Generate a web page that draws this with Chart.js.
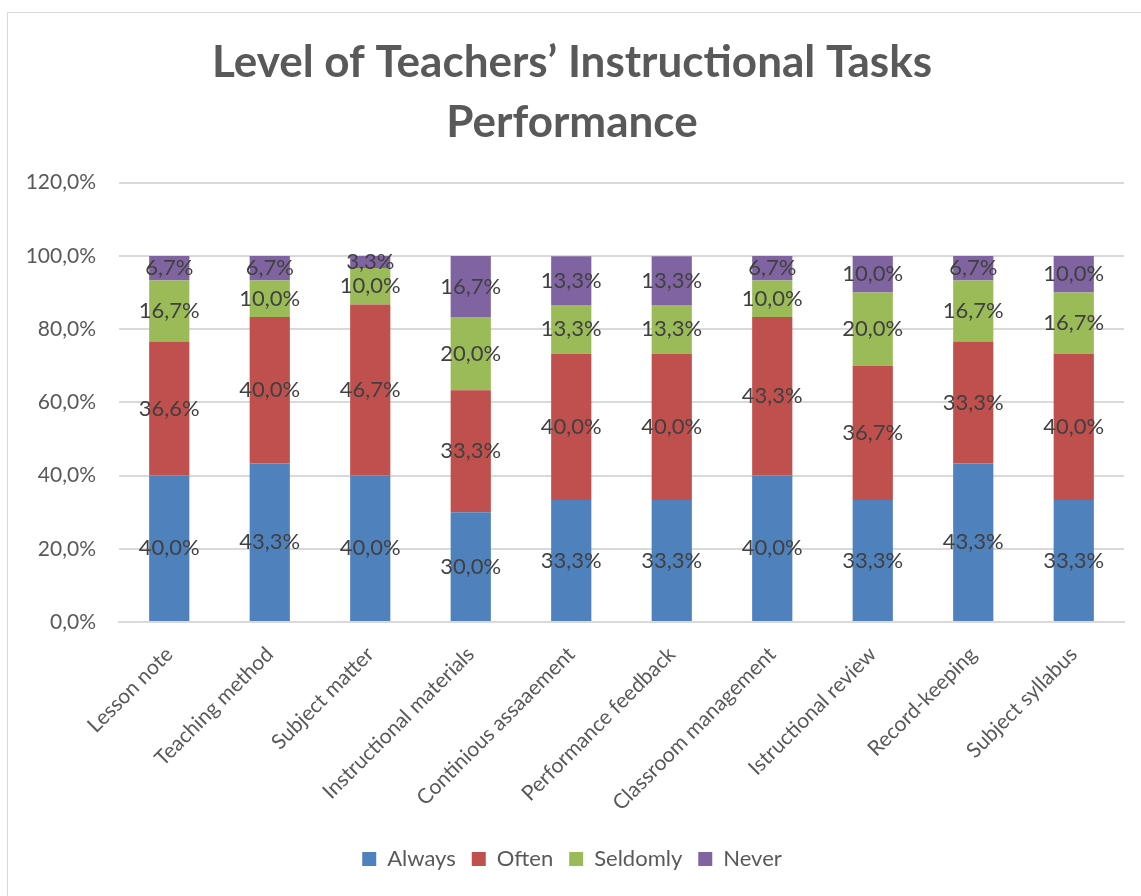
<!doctype html>
<html>

<head>
    <title>Level of Teachers' Instructional Tasks Performance</title>
    <script src="https://cdn.jsdelivr.net/npm/chart.js"></script>
    <style>
        body { margin: 0; overflow: hidden; background: #fff; }
        #frame { position: absolute; left: 7px; top: 12px; width: 1300px; height: 1000px; border: 1px solid #d9d9d9; }
        #wrap { position: absolute; left: 0; top: 0; width: 1141px; height: 896px; }
    </style>
</head>

<body>
    <div id="frame"></div>
    <div id="wrap">
        <canvas id="grafico"></canvas>
    </div>

    <script>
    const CATEGORIAS = ['Lesson note', 'Teaching method', 'Subject matter', 'Instructional materials',
        'Continious assaaement', 'Performance feedback', 'Classroom management', 'Istructional review',
        'Record-keeping', 'Subject syllabus'];
    const ALWAYS   = [40.0, 43.3, 40.0, 30.0, 33.3, 33.3, 40.0, 33.3, 43.3, 33.3];
    const OFTEN    = [36.6, 40.0, 46.7, 33.3, 40.0, 40.0, 43.3, 36.7, 33.3, 40.0];
    const SELDOMLY = [16.7, 10.0, 10.0, 20.0, 13.3, 13.3, 10.0, 20.0, 16.7, 16.7];
    const NEVER    = [6.7, 6.7, 3.3, 16.7, 13.3, 13.3, 6.7, 10.0, 6.7, 10.0];
    const Y_MAX = 120;
    const Y_STEP = 20;

    const FONTE = 'Lato';
    const CINZA = '#595959';

    function pct(v) {
        return v.toFixed(1).replace('.', ',') + '%';
    }

    // rotulos no meio de cada segmento
    const rotulos = {
        id: 'rotulos',
        afterDatasetsDraw(chart) {
            const ctx = chart.ctx;
            ctx.save();
            ctx.font = '22px ' + FONTE;
            ctx.fillStyle = '#404040';
            ctx.textAlign = 'center';
            ctx.textBaseline = 'middle';
            chart.data.datasets.forEach((ds, i) => {
                chart.getDatasetMeta(i).data.forEach((bar, j) => {
                    const meio = (bar.y + bar.base) / 2;
                    ctx.fillText(pct(ds.data[j]), bar.x, meio);
                });
            });
            ctx.restore();
        }
    };

    var grafico = new Chart(document.getElementById('grafico').getContext('2d'), {
        type: 'bar',
        data: {
            labels: CATEGORIAS,
            datasets: [
                { label: 'Always', backgroundColor: '#4F81BD', data: ALWAYS },
                { label: 'Often', backgroundColor: '#C0504D', data: OFTEN },
                { label: 'Seldomly', backgroundColor: '#9BBB59', data: SELDOMLY },
                { label: 'Never', backgroundColor: '#8064A2', data: NEVER }
            ]
        },
        plugins: [rotulos],
        options: {
            responsive: true,
            maintainAspectRatio: false,
            animation: false,
            datasets: {
                bar: { barPercentage: 0.8, categoryPercentage: 0.5 }
            },
            layout: {
                padding: { left: 20, right: 17, top: 0, bottom: 16 }
            },
            scales: {
                x: {
                    stacked: true,
                    grid: { display: false },
                    border: { color: '#d9d9d9', width: 2 },
                    ticks: {
                        color: CINZA,
                        font: { family: FONTE, size: 21 },
                        minRotation: 45,
                        maxRotation: 45,
                        padding: 12
                    },
                    afterFit: (eixo) => { eixo.height = 210; }
                },
                y: {
                    stacked: true,
                    min: 0,
                    max: Y_MAX,
                    grid: { color: '#d9d9d9', lineWidth: 2, drawTicks: false },
                    border: { display: false },
                    ticks: {
                        stepSize: Y_STEP,
                        color: CINZA,
                        font: { family: FONTE, size: 21 },
                        padding: 23,
                        callback: (v) => pct(v)
                    },
                    afterFit: (eixo) => { eixo.width = 99; }
                }
            },
            plugins: {
                title: {
                    display: true,
                    text: ['Level of Teachers\u2019 Instructional Tasks', 'Performance'],
                    color: CINZA,
                    font: { family: FONTE, size: 44, weight: 'bold', lineHeight: 1.36 },
                    padding: { top: 33, bottom: 30 }
                },
                legend: {
                    position: 'bottom',
                    labels: {
                        color: CINZA,
                        font: { family: FONTE, size: 22 },
                        boxWidth: 14,
                        boxHeight: 14,
                        padding: 16
                    }
                },
                tooltip: { enabled: false }
            }
        }
    });
    </script>
</body>

</html>
